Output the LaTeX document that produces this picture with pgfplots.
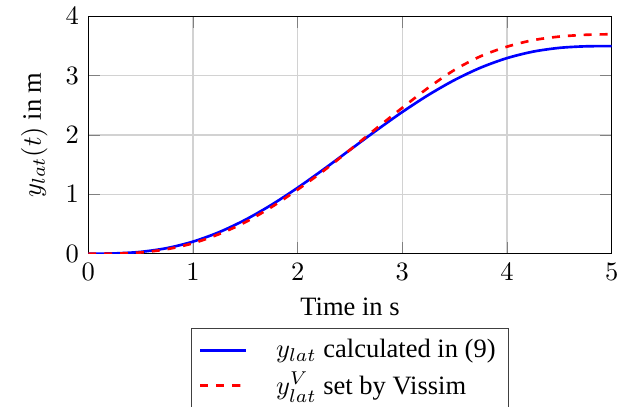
\documentclass[border=0pt]{standalone}
\usepackage{fontspec}
\setmainfont{Liberation Serif}
\usepackage{pgfplots}
\pgfplotsset{compat=1.18}

\begin{document}
\begin{tikzpicture}
  \begin{axis}[
      scale only axis,
      width=197.5pt,
      height=89.5pt,
      xmin=0, xmax=5,
      ymin=0, ymax=4,
      xtick={0,1,...,5},
      ytick={0,1,...,4},
      grid=major,
      grid style={gray!35, line width=0.5pt},
      xlabel={Time in s},
      ylabel={$y_{lat}(t)\ \mathrm{in\ m}$},
      legend cell align=left,
      legend style={
          at={(0.5,-0.314)},
          anchor=north,
          draw=black!75,
          /tikz/every odd column/.append style={column sep=9pt},
        },
    ]
    % y_lat calculated in (9)
    \addplot[blue, line width=1pt, smooth] coordinates {
        (0,0) (0.25,0.0041) (0.5,0.0300) (0.75,0.0931) (1,0.2027)
        (1.25,0.3623) (1.5,0.5708) (1.75,0.8231) (2,1.1110)
        (2.25,1.4241) (2.5,1.75) (2.75,2.0759) (3,2.3890)
        (3.25,2.6769) (3.5,2.9292) (3.75,3.1377) (4,3.2973)
        (4.25,3.4069) (4.5,3.4700) (4.75,3.4959) (5,3.5)
      };
    \addlegendentry{$y_{lat}$ calculated in (9)}
    % y_lat^V set by Vissim
    \addplot[red, line width=1pt, dashed, smooth] coordinates {
        (0,0) (0.25,0.002) (0.5,0.02) (0.75,0.075) (1,0.175)
        (1.25,0.33) (1.5,0.53) (1.75,0.785) (2,1.08)
        (2.25,1.40) (2.5,1.75) (2.75,2.11) (3,2.46)
        (3.25,2.80) (3.5,3.10) (3.75,3.33) (4,3.49)
        (4.25,3.60) (4.5,3.66) (4.75,3.69) (5,3.70)
      };
    \addlegendentry{$y_{lat}^{V}$ set by Vissim}
  \end{axis}
  \pgfresetboundingbox
  \path[use as bounding box]
    ([xshift=-33.3pt,yshift=-57.5pt]current axis.south west)
    rectangle ([xshift=2pt,yshift=6.2pt]current axis.north east);
\end{tikzpicture}
\end{document}
